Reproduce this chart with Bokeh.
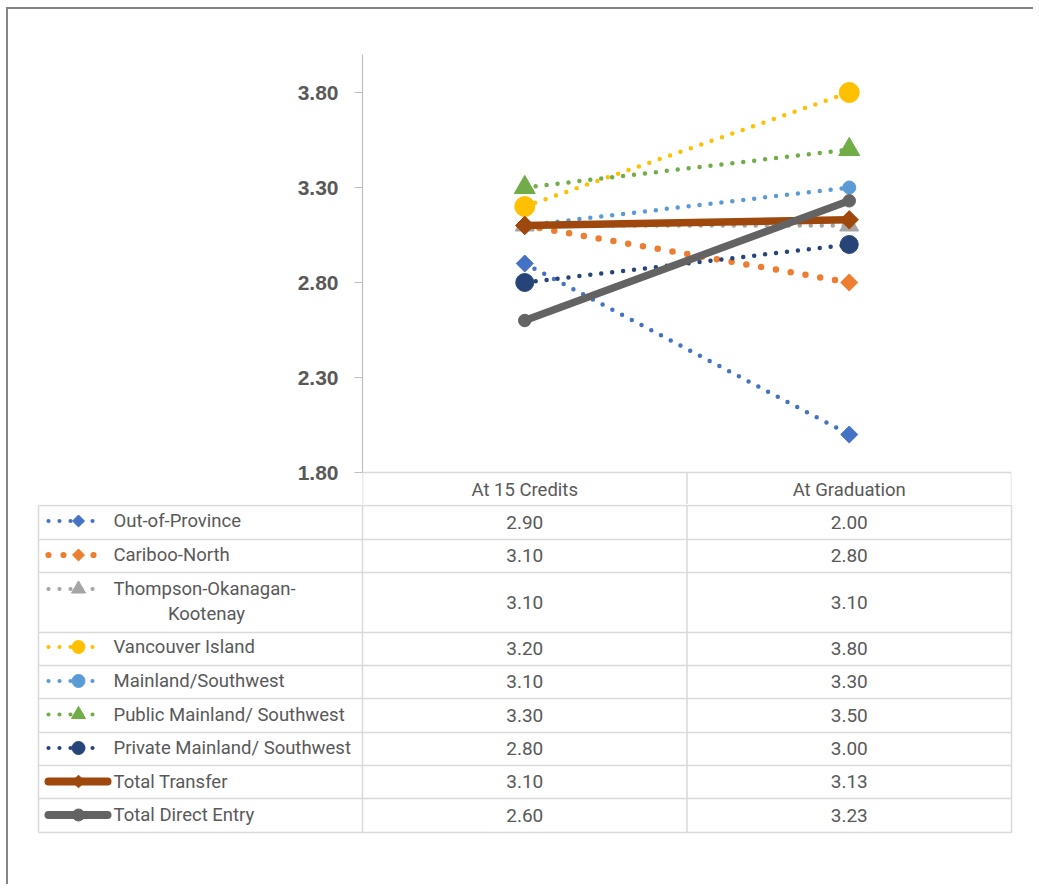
import numpy as np
from bokeh.plotting import figure
from bokeh.models import Range1d, FixedTicker, NumeralTickFormatter, Spacer
from bokeh.layouts import column, row
from bokeh.embed import file_html
from bokeh.resources import INLINE
from bokeh.core.properties import value

# ---------------- data ----------------
categories = ["At 15 Credits", "At Graduation"]
series = [
    "Out-of-Province",
    "Cariboo-North",
    "Thompson-Okanagan-Kootenay",
    "Vancouver Island",
    "Mainland/Southwest",
    "Public Mainland/ Southwest",
    "Private Mainland/ Southwest",
    "Total Transfer",
    "Total  Direct Entry",
]
at_15_credits = [2.90, 3.10, 3.10, 3.20, 3.10, 3.30, 2.80, 3.10, 2.60]
at_graduation = [2.00, 2.80, 3.10, 3.80, 3.30, 3.50, 3.00, 3.13, 3.23]
y_ticks = [1.80, 2.30, 2.80, 3.30, 3.80]
y_min, y_max = 1.80, 4.00

# ---------------- styles ----------------
colors = ["#4472C4", "#ED7D31", "#A5A5A5", "#FFC000", "#5B9BD5",
          "#70AD47", "#264478", "#9E480E", "#636363"]
line_widths = [4.5, 6.5, 4.5, 4.5, 4.5, 4.5, 4.5, 7.5, 7.5]
dashes = ["0 11", "0 15", "0 11", "0 11", "0 11", "0 11", "0 11", "solid", "solid"]
markers = ["diamond", "diamond", "triangle", "circle", "circle",
           "triangle", "circle", "diamond", "circle"]
sizes = [12, 12, 19, 20, 13, 21, 18, 13, 12.5]
legend_sizes = [8.5, 8.5, 14, 13, 13, 14, 13, 9, 12]
TXT = "#595959"
GRID = "#D9D9D9"
FRAME = "#858585"
FONT = value("Roboto")
LBL_SIZE = "18.5px"
VAL_SIZE = "19px"

OX, OY = 8, 9              # where the content starts on the page
W = 1025
TOP_BOTTOM = 504           # page y where the chart figure ends
TOP_H = TOP_BOTTOM - OY
BOT_H = 380
AXIS_PX = 418.0            # pixel length of the value axis (1.80 .. 4.00)
FRAME_TOP = 54 - OY
frame_h = TOP_H - FRAME_TOP
units_per_px = (y_max - y_min) / AXIS_PX
y_start = y_max - frame_h * units_per_px


def marker_kw(m, s):
    if m == "diamond":
        return dict(marker="square", size=s, angle=np.pi / 4)
    return dict(marker=m, size=s)


# ---------------- chart ----------------
p = figure(width=W, height=TOP_H, output_backend="svg", toolbar_location=None,
           x_range=Range1d(0, len(categories)), y_range=Range1d(y_start, y_max),
           x_axis_location=None, title=None,
           min_border_left=362 - OX, min_border_right=OX + W - 1011,
           min_border_top=FRAME_TOP, min_border_bottom=0)
p.frame_align = False
p.outline_line_color = None
p.grid.visible = False
p.background_fill_color = "white"
p.border_fill_color = "white"

yax = p.yaxis[0]
yax.ticker = FixedTicker(ticks=y_ticks)
yax.formatter = NumeralTickFormatter(format="0.00")
yax.bounds = (y_min, y_max)
yax.axis_line_color = "#BFBFBF"
yax.axis_line_width = 1.2
yax.major_tick_line_color = "#BFBFBF"
yax.major_tick_out = 8
yax.major_tick_in = 0
yax.minor_tick_line_color = None
yax.major_label_text_font = "Liberation Sans"
yax.major_label_text_font_style = "bold"
yax.major_label_text_font_size = "21px"
yax.major_label_text_color = TXT
yax.major_label_standoff = 16

# header row of the data table (category labels)
ncat = len(categories)
p.segment(x0=[0], y0=[y_min], x1=[ncat], y1=[y_min], line_color=GRID, line_width=1.5)
p.segment(x0=list(range(ncat + 1)), y0=[y_min] * (ncat + 1),
          x1=list(range(ncat + 1)), y1=[y_start] * (ncat + 1),
          line_color=GRID, line_width=1.5)
xs = [i + 0.5 for i in range(ncat)]
p.text(x=xs, y=[y_min] * ncat, text=categories, y_offset=17,
       text_font=FONT, text_font_size=LBL_SIZE, text_color=TXT,
       text_align="center", text_baseline="middle")

for i, name in enumerate(series):
    ys = [at_15_credits[i], at_graduation[i]]
    p.line(xs, ys, line_color=colors[i], line_width=line_widths[i],
           line_dash=dashes[i], line_cap="round", line_join="round")
    p.scatter(xs, ys, fill_color=colors[i], line_color=colors[i],
              **marker_kw(markers[i], sizes[i]))

# ---------------- data table ----------------
b = figure(width=W, height=BOT_H, output_backend="svg", toolbar_location=None,
           x_range=Range1d(OX, OX + W), y_range=Range1d(TOP_BOTTOM + BOT_H, TOP_BOTTOM),
           x_axis_location=None, y_axis_location=None, title=None, min_border=0)
b.frame_align = False
b.outline_line_color = None
b.grid.visible = False

col_edges = [38, 362, 686.5, 1011]
row_edges = [505, 539, 572, 632, 665, 698, 732, 765, 798, 832]
b.segment(x0=[col_edges[0]] * len(row_edges), y0=row_edges,
          x1=[col_edges[-1]] * len(row_edges), y1=row_edges,
          line_color=GRID, line_width=1.5)
b.segment(x0=col_edges, y0=[row_edges[0]] * len(col_edges),
          x1=col_edges, y1=[row_edges[-1]] * len(col_edges),
          line_color=GRID, line_width=1.5)

row_text_y = [520.5, 554.5, 588.5, 646.5, 680.5, 714, 747.5, 781, 814.5]
val_x = [(col_edges[k + 1] + col_edges[k + 2]) / 2 for k in range(ncat)]
row_mid = [(row_edges[k] + row_edges[k + 1]) / 2 for k in range(len(series))]

vals_x, vals_y, vals_t = [], [], []
for k in range(len(series)):
    for j, arr in enumerate([at_15_credits, at_graduation]):
        vals_x.append(val_x[j])
        vals_y.append(row_mid[k] - 0.5)
        vals_t.append(f"{arr[k]:.2f}")
b.text(x=vals_x, y=vals_y, text=vals_t, text_font=FONT, text_font_size=VAL_SIZE,
       text_color=TXT, text_align="center", text_baseline="middle")

# legend keys + names
for k, name in enumerate(series):
    y = row_text_y[k]
    if dashes[k] == "solid":
        x0, x1 = 48, 107
    elif dashes[k] == "0 15":
        x0, x1 = 48, 94
    else:
        x0, x1 = 48, 103
    b.line([x0, x1], [y, y], line_color=colors[k],
           line_width=line_widths[k] + (0.5 if dashes[k] == "solid" else -0.3),
           line_dash=dashes[k], line_cap="round")
    b.scatter([78], [y], fill_color=colors[k], line_color=colors[k],
              **marker_kw(markers[k], legend_sizes[k]))
    if name == "Thompson-Okanagan-Kootenay":
        b.text(x=[113], y=[y], text=["Thompson-Okanagan-"], text_font=FONT,
               text_font_size=LBL_SIZE, text_color=TXT, text_align="left",
               text_baseline="middle")
        b.text(x=[206], y=[y + 25], text=["Kootenay"], text_font=FONT,
               text_font_size=LBL_SIZE, text_color=TXT, text_align="center",
               text_baseline="middle")
    else:
        b.text(x=[113], y=[y], text=[name], text_font=FONT,
               text_font_size=LBL_SIZE, text_color=TXT, text_align="left",
               text_baseline="middle")

# outer chart-area frame (left and top edges) drawn as thin grey spacers
top_edge = Spacer(width=W + 2, height=2, styles={"background-color": FRAME})
left_edge = Spacer(width=2, height=TOP_H + BOT_H, styles={"background-color": FRAME})
layout = column(top_edge, row(left_edge, column(p, b)),
                styles={"margin-left": "6px", "margin-top": "7px"})

open("out.html", "w").write(file_html(layout, INLINE))
